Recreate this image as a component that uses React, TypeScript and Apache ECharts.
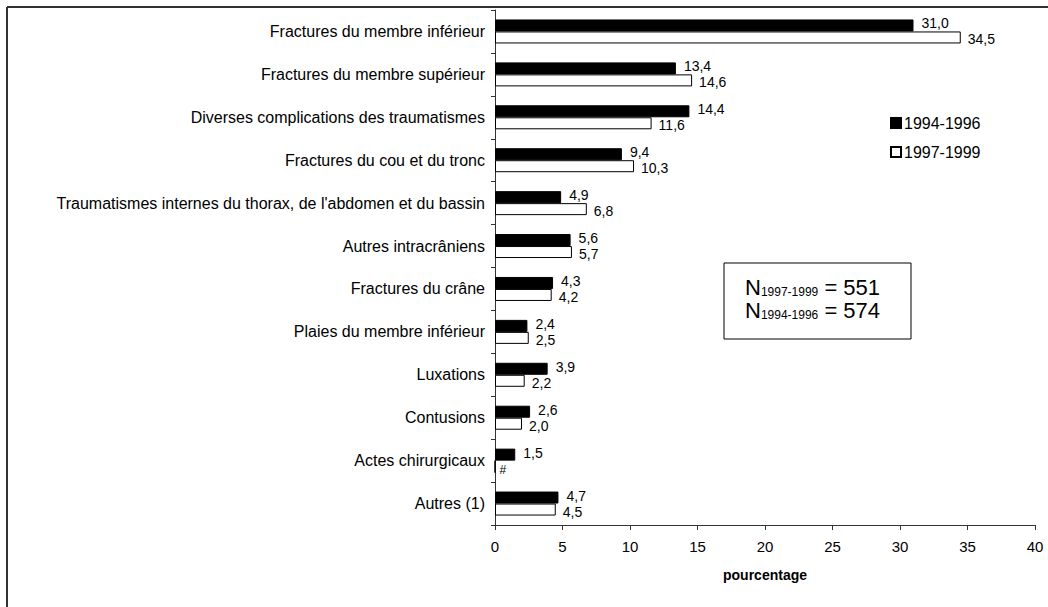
import React, { useEffect, useRef } from "react";
import * as echarts from "echarts";

const categories = [
  "Fractures du membre inférieur",
  "Fractures du membre supérieur",
  "Diverses complications des traumatismes",
  "Fractures du cou et du tronc",
  "Traumatismes internes du thorax, de l'abdomen et du bassin",
  "Autres intracrâniens",
  "Fractures du crâne",
  "Plaies du membre inférieur",
  "Luxations",
  "Contusions",
  "Actes chirurgicaux",
  "Autres (1)",
];
const series1994 = [31.0, 13.4, 14.4, 9.4, 4.9, 5.6, 4.3, 2.4, 3.9, 2.6, 1.5, 4.7];
// 0 = not available, shown as "#"
const series1997 = [34.5, 14.6, 11.6, 10.3, 6.8, 5.7, 4.2, 2.5, 2.2, 2.0, 0, 4.5];
const xTicks = { min: 0, max: 40, interval: 5 };
const nBox = [
  { period: "1997-1999", n: 551 },
  { period: "1994-1996", n: 574 },
];

const FONT = "'Liberation Sans', Arial, sans-serif";

export default function App() {
  const ref = useRef<HTMLDivElement>(null);
  useEffect(() => {
    document.body.style.margin = "0";
    const chart = echarts.init(ref.current!, null, { renderer: "svg" });
    const fmt = (p: any) => (p.value === 0 ? "{s|#}" : Number(p.value).toFixed(1).replace(".", ","));
    const labelBase = {
      show: true,
      position: "right",
      fontSize: 14,
      lineHeight: 14,
      color: "#000",
      fontFamily: FONT,
      formatter: fmt,
      rich: { s: { fontSize: 12, lineHeight: 12, color: "#000", fontFamily: FONT, padding: [2, 0, 0, -3] } },
    };
    chart.setOption({
      animation: false,
      backgroundColor: "#fff",
      textStyle: { fontFamily: FONT, color: "#000" },
      grid: { left: 495, right: 13, top: 10, bottom: 82, containLabel: false },
      legend: {
        orient: "vertical",
        left: 885,
        top: 110,
        itemWidth: 10,
        itemHeight: 10,
        itemGap: 13,
        icon: "rect",
        textStyle: { fontSize: 16, color: "#000", fontFamily: FONT, padding: [0, 0, 0, -2] },
        data: ["1994-1996", "1997-1999"],
      },
      xAxis: {
        type: "value",
        min: xTicks.min,
        max: xTicks.max,
        interval: xTicks.interval,
        name: "pourcentage",
        nameLocation: "middle",
        nameGap: 43,
        nameTextStyle: { fontWeight: "bold", fontSize: 14, color: "#000", fontFamily: FONT },
        axisLine: { show: true, lineStyle: { color: "#333", width: 1 } },
        axisTick: { show: true, length: 5, lineStyle: { color: "#333" } },
        axisLabel: { fontSize: 15, color: "#000", margin: 14, fontFamily: FONT },
        splitLine: { show: false },
      },
      yAxis: {
        type: "category",
        inverse: true,
        data: categories,
        axisLine: { show: true, lineStyle: { color: "#333", width: 1 } },
        axisTick: { show: true, length: 4, alignWithLabel: false, lineStyle: { color: "#333" } },
        axisLabel: { fontSize: 16, color: "#000", margin: 10, fontFamily: FONT },
      },
      series: [
        {
          name: "1994-1996",
          type: "bar",
          data: series1994,
          barWidth: 12,
          barGap: "0%",
          itemStyle: { color: "#000", borderColor: "#000", borderWidth: 1 },
          label: { ...labelBase, distance: 8, offset: [0, -2] },
        },
        {
          name: "1997-1999",
          type: "bar",
          data: series1997,
          barWidth: 12,
          barGap: "0%",
          itemStyle: { color: "#fff", borderColor: "#000", borderWidth: 1 },
          label: { ...labelBase, distance: 7, offset: [0, 2] },
        },
      ],
      graphic: [
        { type: "line", shape: { x1: 7, y1: 7, x2: 1048, y2: 7 }, style: { stroke: "#333", lineWidth: 2 } },
        { type: "line", shape: { x1: 7, y1: 7, x2: 7, y2: 607 }, style: { stroke: "#333", lineWidth: 2 } },
        { type: "rect", shape: { x: 724, y: 263, width: 187, height: 76 }, style: { fill: "#fff", stroke: "#000", lineWidth: 1 } },
        ...nBox.map((d, i) => ({
          type: "text",
          x: 745,
          y: 276 + i * 23,
          style: {
            text: `{n|N}{sub|${d.period}}{main| = ${d.n}}`,
            font: `22px ${FONT}`,
            fill: "#000",
            rich: {
              n: { fontSize: 22, fontFamily: FONT, fill: "#000" },
              sub: { fontSize: 12, fontFamily: FONT, fill: "#000", padding: [9, 0, 0, 0] },
              main: { fontSize: 22, fontFamily: FONT, fill: "#000" },
            },
          },
        })),
      ],
    });
    return () => chart.dispose();
  }, []);
  return <div ref={ref} style={{ width: 1048, height: 607 }} />;
}
